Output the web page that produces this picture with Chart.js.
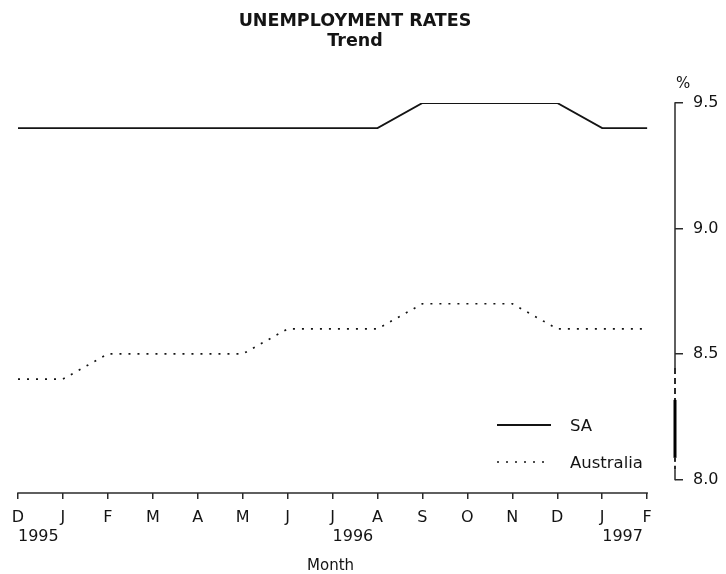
<!DOCTYPE html>
<html><head><meta charset="utf-8">
<script src="https://cdn.jsdelivr.net/npm/chart.js@4/dist/chart.umd.min.js"></script>
<style>html,body{margin:0;padding:0;background:#fff}canvas{display:block}</style>
</head><body>
<canvas id="c" width="726" height="574"></canvas>
<script>
const months = ['D','J','F','M','A','M','J','J','A','S','O','N','D','J','F'];
const years = ['1995','','','','','','','1996','','','','','','1997',''];
const saRates = [9.4,9.4,9.4,9.4,9.4,9.4,9.4,9.4,9.4,9.5,9.5,9.5,9.5,9.4,9.4];
const ausRates = [8.4,8.4,8.5,8.5,8.5,8.5,8.6,8.6,8.6,8.7,8.7,8.7,8.6,8.6,8.6];
const yTickValues = [8.0, 8.5, 9.0, 9.5];
const titleLines = ['UNEMPLOYMENT RATES', 'Trend'];
const seriesNames = ['SA', 'Australia'];
const xTitle = 'Month';
const yUnit = '%';

const FONT = 'DejaVu Sans';
const INK = '#141414';

const customDraw = {
  id: 'customDraw',
  afterDraw(chart) {
    const ctx = chart.ctx, xs = chart.scales.x, ys = chart.scales.y;
    const area = chart.chartArea;
    ctx.save();
    // title
    ctx.fillStyle = INK;
    ctx.textAlign = 'center';
    ctx.textBaseline = 'middle';
    ctx.font = 'bold 17.5px "' + FONT + '"';
    titleLines.forEach((t, i) => ctx.fillText(t, 355, 21 + i * 20));
    // x axis title
    ctx.font = '15px "' + FONT + '"';
    ctx.fillText(xTitle, xs.getPixelForValue(7) - 2, 566);

    ctx.strokeStyle = '#2a2a2a';
    ctx.lineWidth = 1.5;
    // x axis line (from first to last month)
    ctx.beginPath();
    ctx.moveTo(xs.getPixelForValue(0) - 0.75, area.bottom);
    ctx.lineTo(xs.getPixelForValue(months.length - 1) + 0.75, area.bottom);
    ctx.stroke();
    // y axis line with scale break
    const ax = area.right;
    const yTop = ys.getPixelForValue(yTickValues[yTickValues.length - 1]);
    const seg = (a, b, w, dash) => {
      ctx.setLineDash(dash || []);
      ctx.lineWidth = w;
      ctx.beginPath(); ctx.moveTo(ax, ys.getPixelForValue(a)); ctx.lineTo(ax, ys.getPixelForValue(b)); ctx.stroke();
    };
    seg(9.5 + 0.003, 8.444, 1.5);
    seg(8.444, 8.317, 2, [6, 4]);
    ctx.strokeStyle = '#000';
    seg(8.317, 8.086, 3);
    ctx.strokeStyle = '#2a2a2a';
    seg(8.086, 8.04, 2, [4, 4]);
    seg(8.04, 8.0 - 0.003, 1.5);
    ctx.setLineDash([]);
    // % unit
    ctx.fillStyle = INK;
    ctx.font = '15px "' + FONT + '"';
    ctx.textAlign = 'left';
    ctx.fillText(yUnit, ax + 1, yTop - 19);
    // legend
    const ds = chart.data.datasets;
    const lx0 = 497, lx1 = 551, tx = 570;
    const ly = [425, 462];
    ctx.font = '16.5px "' + FONT + '"';
    ds.forEach((d, i) => {
      ctx.strokeStyle = d.borderColor;
      ctx.lineWidth = d.borderWidth;
      ctx.setLineDash(d.borderDash || []);
      ctx.beginPath();
      ctx.moveTo(lx0, ly[i]);
      ctx.lineTo(i === 0 ? lx1 : lx1 - 4, ly[i]);
      ctx.stroke();
      ctx.setLineDash([]);
      ctx.fillStyle = INK;
      ctx.fillText(d.label, tx, ly[i] + 2);
    });
    ctx.restore();
  }
};

const toPoints = arr => arr.map((v, i) => ({x: i, y: v}));
const setIndexTicks = scale => { scale.ticks = months.map((_, i) => ({value: i})); };

new Chart(document.getElementById('c'), {
  type: 'line',
  data: {
    datasets: [
      {label: seriesNames[0], data: toPoints(saRates), borderColor: INK, borderWidth: 1.9, pointRadius: 0, tension: 0, fill: false},
      {label: seriesNames[1], data: toPoints(ausRates), borderColor: INK, borderWidth: 1.7, borderDash: [2, 7], pointRadius: 0, tension: 0, fill: false}
    ]
  },
  options: {
    responsive: false,
    animation: false,
    devicePixelRatio: 1,
    layout: {padding: {left: 18, right: 0, top: 103, bottom: 0}},
    plugins: {
      legend: {display: false},
      tooltip: {enabled: false},
      title: {display: false}
    },
    scales: {
      x: {
        type: 'linear',
        position: 'bottom',
        min: 0,
        max: 14.62,
        afterBuildTicks: setIndexTicks,
        afterFit: s => { s.height = 34; },
        grid: {display: true, drawOnChartArea: false, drawTicks: true, tickLength: 6, color: '#2a2a2a', lineWidth: 1.5},
        border: {display: false},
        ticks: {
          autoSkip: false, maxRotation: 0, padding: 9, color: INK,
          font: {family: FONT, size: 16},
          callback: (v) => months[v] !== undefined ? months[v] : ''
        }
      },
      x2: {
        type: 'linear',
        position: 'bottom',
        min: 0,
        max: 14.62,
        afterBuildTicks: setIndexTicks,
        afterFit: s => { s.height = 47; },
        grid: {display: false, drawTicks: false},
        border: {display: false},
        ticks: {
          autoSkip: false, maxRotation: 0, padding: 0, align: 'start', color: INK,
          font: {family: FONT, size: 16},
          callback: (v) => years[v] !== undefined ? years[v] : ''
        }
      },
      y: {
        type: 'linear',
        position: 'right',
        min: 7.946,
        max: 9.5,
        afterBuildTicks: s => { s.ticks = yTickValues.map(v => ({value: v})); },
        afterFit: s => { s.width = 51; },
        grid: {display: true, drawOnChartArea: false, drawTicks: true, tickLength: 8, color: '#2a2a2a', lineWidth: 1.5},
        border: {display: false},
        ticks: {padding: 10, color: INK, font: {family: FONT, size: 16}, callback: v => Number(v).toFixed(1)}
      }
    }
  },
  plugins: [customDraw]
});
</script>
</body></html>
